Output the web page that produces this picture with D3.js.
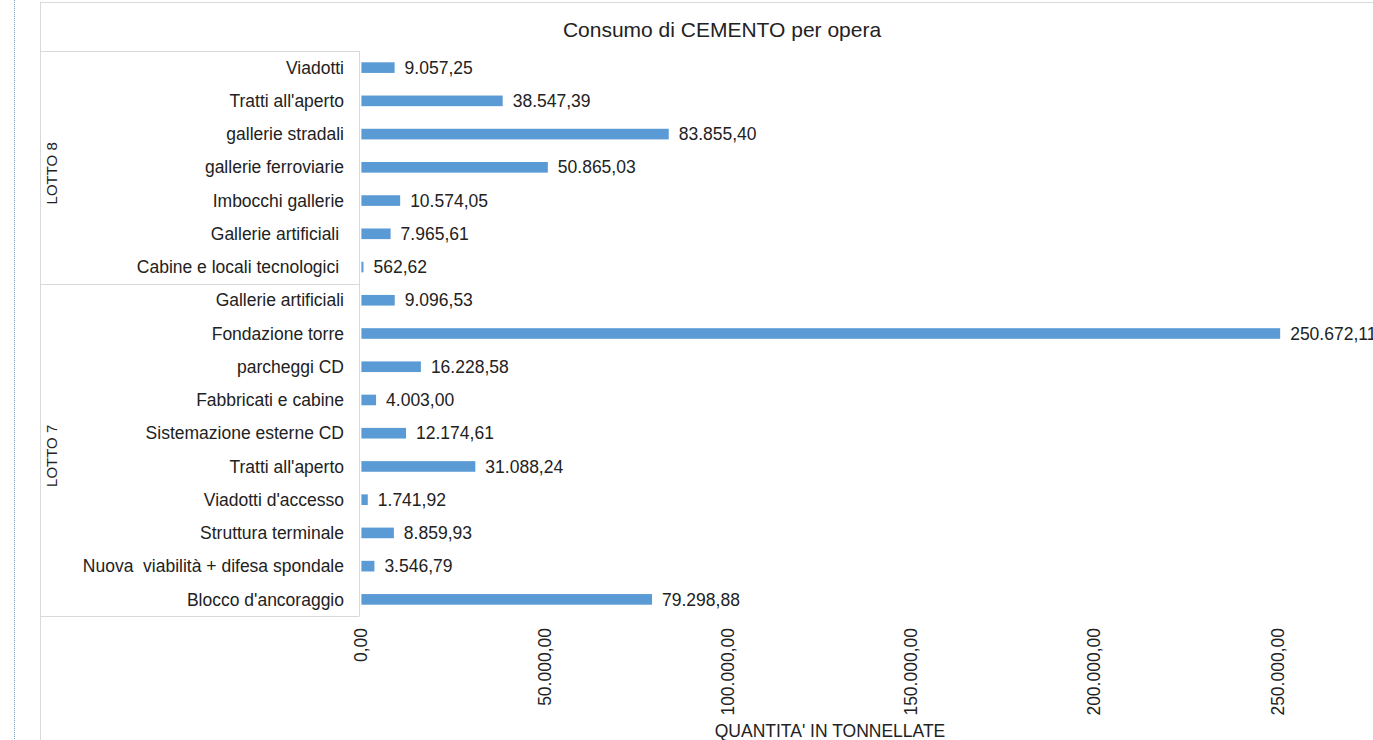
<!DOCTYPE html>
<html><head><meta charset="utf-8">
<script src="https://cdn.jsdelivr.net/npm/d3@7"></script>
<style>
html,body{margin:0;padding:0;background:#fff;overflow:hidden}
text{font-family:"Liberation Sans",Arial,sans-serif;fill:#222}
</style></head><body>
<svg id="c" width="1373" height="740"></svg>
<script>
const categories = ["Viadotti","Tratti all'aperto","gallerie stradali","gallerie ferroviarie","Imbocchi gallerie","Gallerie artificiali ","Cabine e locali tecnologici ",
  "Gallerie artificiali","Fondazione torre","parcheggi CD","Fabbricati e cabine","Sistemazione esterne CD","Tratti all'aperto","Viadotti d'accesso","Struttura terminale","Nuova  viabilità + difesa spondale","Blocco d'ancoraggio"];
const groups = ["LOTTO 8","LOTTO 8","LOTTO 8","LOTTO 8","LOTTO 8","LOTTO 8","LOTTO 8",
  "LOTTO 7","LOTTO 7","LOTTO 7","LOTTO 7","LOTTO 7","LOTTO 7","LOTTO 7","LOTTO 7","LOTTO 7","LOTTO 7"];
const values = [9057.25,38547.39,83855.40,50865.03,10574.05,7965.61,562.62,
  9096.53,250672.11,16228.58,4003.00,12174.61,31088.24,1741.92,8859.93,3546.79,79298.88];
const tickValues = [0,50000,100000,150000,200000,250000];
const groupNames = ["LOTTO 8","LOTTO 7"];
const title = "Consumo di CEMENTO per opera";
const axisTitle = "QUANTITA' IN TONNELLATE";

const it = d3.formatLocale({decimal:",",thousands:".",grouping:[3],currency:["€",""]});
const fmt = it.format(",.2f");

const svg = d3.select("#c");
const idx = categories.map((d,i)=>i);
const y = d3.scaleBand().domain(idx).range([51,616]).paddingInner(0.68).paddingOuter(0.34);
const x = d3.scaleLinear().domain([0,250000]).range([361.4,1277.7]);

// page dotted line
svg.append("line").attr("x1",14.5).attr("x2",14.5).attr("y1",0).attr("y2",740)
  .attr("stroke","#7f9fb8").attr("stroke-dasharray","1,1").attr("stroke-width",1);
// chart frame
svg.append("line").attr("x1",40.5).attr("x2",40.5).attr("y1",2).attr("y2",740).attr("stroke","#d9d9d9");
svg.append("line").attr("x1",40).attr("x2",1373).attr("y1",2.5).attr("y2",2.5).attr("stroke","#d9d9d9");

// title
svg.append("text").attr("x",722).attr("y",37).attr("text-anchor","middle")
  .style("font-size","21px").text(title);

// category box lines
const boxX = 359.5;
svg.append("line").attr("x1",40).attr("x2",boxX).attr("y1",51.5).attr("y2",51.5).attr("stroke","#d9d9d9");
svg.append("line").attr("x1",boxX).attr("x2",boxX).attr("y1",51).attr("y2",616).attr("stroke","#d9d9d9");
const rowH = 565/categories.length;
const groupRanges = groupNames.map(g=>{
  const ii = idx.filter(i=>groups[i]===g);
  return {g, y0: 51 + d3.min(ii)*rowH, y1: 51 + (d3.max(ii)+1)*rowH};
});
groupRanges.forEach(r=>{
  svg.append("line").attr("x1",40).attr("x2",boxX).attr("y1",Math.round(r.y1)+0.5).attr("y2",Math.round(r.y1)+0.5).attr("stroke","#d9d9d9");
  svg.append("text").attr("transform",`translate(57,${(r.y0+r.y1)/2+6}) rotate(-90)`)
    .attr("text-anchor","middle").style("font-size","15px").text(r.g);
});

// category labels
svg.append("g").selectAll("text").data(idx).join("text")
  .attr("x",344).attr("y",i=>y(i)+y.bandwidth()/2).attr("dy","0.35em")
  .attr("text-anchor","end").style("font-size","17.5px").style("white-space","pre")
  .attr("xml:space","preserve").text(i=>categories[i]);

// bars
svg.append("g").selectAll("rect").data(idx).join("rect")
  .attr("x",x(0)).attr("y",i=>y(i)).attr("width",i=>x(values[i])-x(0)).attr("height",y.bandwidth())
  .attr("fill","#5B9BD5");

// value labels
svg.append("g").selectAll("text").data(idx).join("text")
  .attr("x",i=>x(values[i])+10).attr("y",i=>y(i)+y.bandwidth()/2).attr("dy","0.35em")
  .style("font-size","17.5px").text(i=>fmt(values[i]));

// x ticks
svg.append("g").selectAll("text").data(tickValues).join("text")
  .attr("transform",d=>`translate(${x(d)+6},628) rotate(-90)`)
  .attr("text-anchor","end").style("font-size","17.5px").text(d=>fmt(d));

svg.append("text").attr("x",830).attr("y",737).attr("text-anchor","middle")
  .style("font-size","17.5px").text(axisTitle);
</script></body></html>
